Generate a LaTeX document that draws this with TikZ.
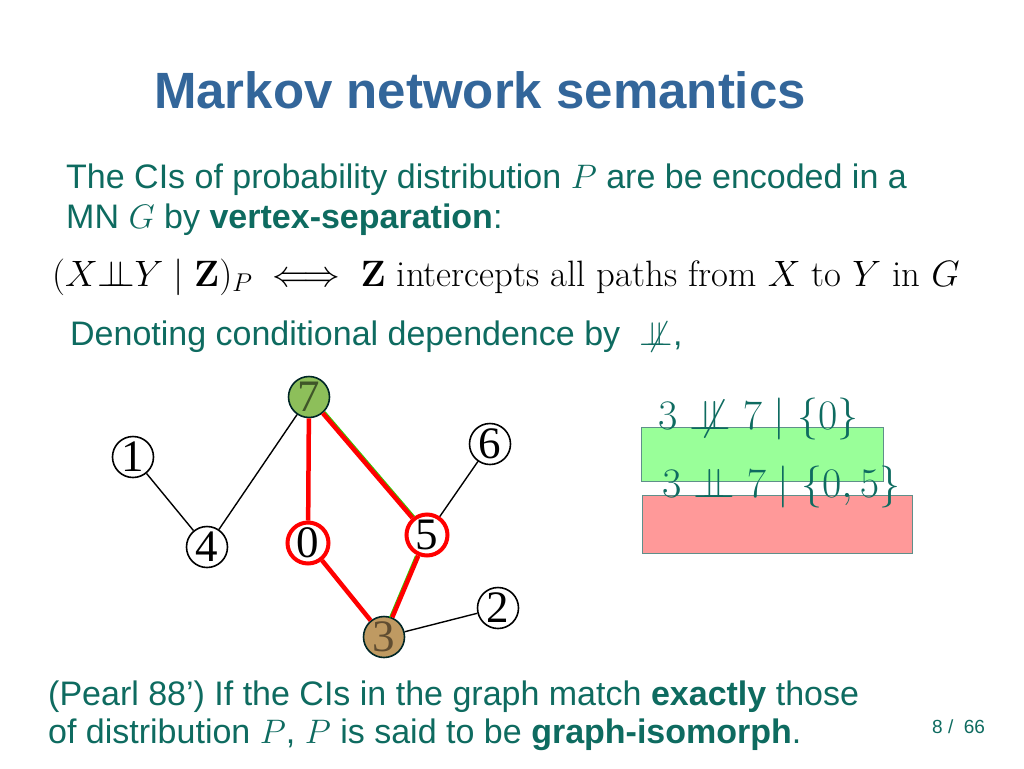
\RequirePackage{fix-cm}
\documentclass[tikz,border=0pt]{standalone}
\usepackage[no-math]{fontspec}
\newfontfamily\slidefont{Liberation Sans}
\newfontfamily\graphfont{Liberation Serif}
\definecolor{titleblue}{HTML}{33669A}
\definecolor{slideteal}{HTML}{0E6B60}
\definecolor{boxgreen}{HTML}{99FF99}
\definecolor{boxred}{HTML}{FF9999}
\definecolor{boxline}{HTML}{5F8F8A}
\definecolor{nodegreen}{HTML}{8DBF5A}
\definecolor{nodebrown}{HTML}{BF9A62}
\definecolor{edgegreen}{HTML}{33CC00}
\newcommand{\indepsym}{{\perp\mkern-10mu\perp}}
\newcommand{\indeprel}{\mathrel{\perp\mkern-10mu\perp}}
\newcommand{\nindeprel}{\mathrel{\perp\mkern-10mu\not\perp}}
\tikzset{
  slidetext/.style={anchor=base west, inner sep=0pt, text=slideteal, font=\slidefont\fontsize{34}{40}\selectfont},
  vtx/.style={circle, draw=black, line width=1.6pt, fill=white, minimum size=41pt, inner sep=0pt,
     font=\graphfont\fontsize{45}{45}\selectfont},
  sepvtx/.style={vtx, draw=red, line width=4pt},
  plainedge/.style={line width=1.4pt, black},
  rededge/.style={line width=4.5pt, red},
  greenedge/.style={line width=1.5pt, edgegreen},
  cibox/.style={draw=boxline, line width=1pt},
  citext/.style={anchor=base west, inner sep=0pt, text=slideteal, font=\fontsize{42}{48}\selectfont}
}
\begin{document}
\begin{tikzpicture}[x=1pt,y=-1pt]
\useasboundingbox[fill=white] (0,0) rectangle (1024,768);
% title
\node[anchor=base, inner sep=0pt, text=titleblue, font=\slidefont\bfseries\fontsize{51}{56}\selectfont] (title) at (480,108) {Markov network semantics};
% text
\node[slidetext] (l1) at (66,188) {The CIs of probability distribution $P$ are be encoded in a};
\node[slidetext] (l2) at (66,228) {MN $G$ by \textbf{vertex-separation}:};
\node[anchor=base west, inner sep=0pt, font=\fontsize{36.7}{42}\selectfont] (formula) at (52,286)
  {$(X\indepsym Y\mid\mathbf{Z})_P \iff \mathbf{Z}$ intercepts all paths from $X$ to $Y$ in $G$};
\node[slidetext] (l3) at (70,345) {Denoting conditional dependence by \ $\nindeprel$,};
% CI boxes
\node[cibox, fill=boxgreen, minimum width=242pt, minimum height=54pt, inner sep=0pt, anchor=north west] (gbox) at (641,427) {};
\node[cibox, fill=boxred, minimum width=270pt, minimum height=58pt, inner sep=0pt, anchor=north west] (rbox) at (642,495) {};
\node[citext] (ci1) at (658,429) {$3\nindeprel 7\mid\{0\}$};
\node[citext] (ci2) at (662,497) {$3\indeprel 7\mid\{0,5\}$};
% graph
\node[vtx, fill=nodegreen, draw=black!70!teal, text=black!55!nodegreen] (n7) at (309,397) {7};
\node[vtx] (n1) at (133,457) {1};
\node[vtx] (n4) at (207,547) {4};
\node[sepvtx] (n0) at (308,543) {0};
\node[sepvtx] (n5) at (427,535) {5};
\node[vtx] (n6) at (490,444) {6};
\node[vtx, fill=nodebrown, draw=black!70!teal, text=black!50!nodebrown] (n3) at (384,637) {3};
\node[vtx] (n2) at (498,608) {2};
\draw[plainedge] (n1) -- (n4);
\draw[plainedge] (n4) -- (n7);
\draw[plainedge] (n5) -- (n6);
\draw[plainedge] (n3) -- (n2);
\draw[greenedge, transform canvas={xshift=2pt, yshift=1.5pt}] (n7) -- (n5);
\draw[greenedge, transform canvas={xshift=-2.5pt}] (n5) -- (n3);
\draw[rededge] (n7) -- (n0);
\draw[rededge] (n7) -- (n5);
\draw[rededge] (n0) -- (n3);
\draw[rededge] (n5) -- (n3);
% bottom text
\node[slidetext] (b1) at (48,705) {(Pearl 88’) If the CIs in the graph match \textbf{exactly} those};
\node[slidetext] (b2) at (48,743) {of distribution $P$, $P$ is said to be \textbf{graph-isomorph}.};
\node[anchor=base west, inner sep=0pt, text=slideteal, font=\slidefont\fontsize{19}{21}\selectfont] (page) at (932,733) {8 / \ 66};
\end{tikzpicture}
\end{document}
